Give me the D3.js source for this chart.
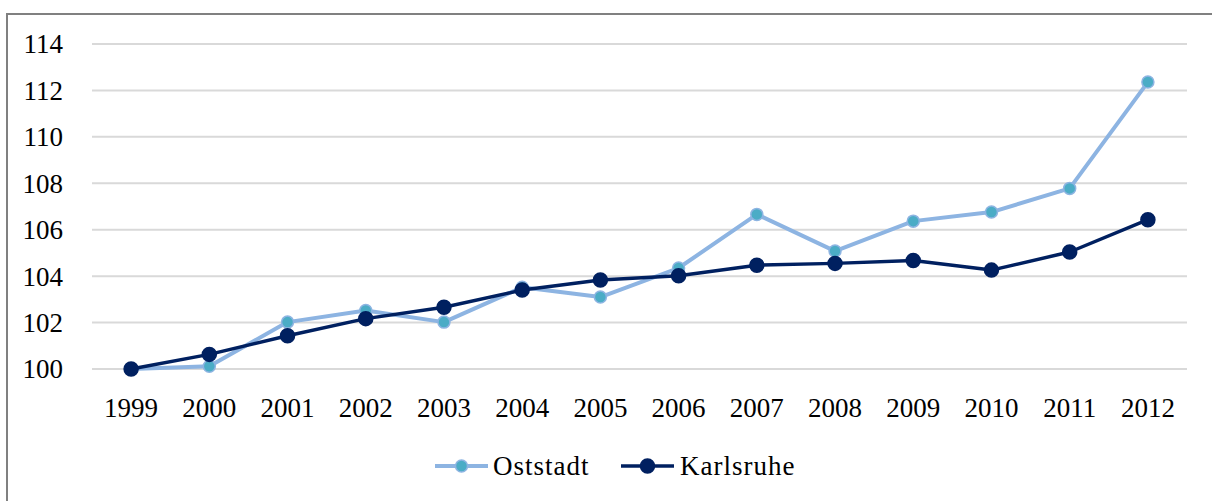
<!DOCTYPE html>
<html>
<head>
<meta charset="utf-8">
<script src="https://cdn.jsdelivr.net/npm/d3@7"></script>
<style>
  html, body { margin: 0; padding: 0; background: #fff; }
  svg { display: block; font-family: "Liberation Serif", "DejaVu Serif", serif; }
</style>
</head>
<body>
<svg id="chart" width="1212" height="501"></svg>
<script>
var years = ['1999', '2000', '2001', '2002', '2003', '2004', '2005', '2006', '2007', '2008', '2009', '2010', '2011', '2012'];
var oststadt = [100, 100.12, 102.02, 102.52, 102.02, 103.52, 103.1, 104.35, 106.66, 105.08, 106.37, 106.76, 107.78, 112.36];
var karlsruhe = [100, 100.63, 101.43, 102.17, 102.66, 103.4, 103.83, 104.02, 104.47, 104.55, 104.67, 104.26, 105.04, 106.43];
var yTicks = [100, 102, 104, 106, 108, 110, 112, 114];

var series = [
  { name: 'Oststadt', values: oststadt, line: '#8db4e2', fill: '#4bacc6', width: 4, r: 6 },
  { name: 'Karlsruhe', values: karlsruhe, line: '#002060', fill: '#002060', width: 3.5, r: 7 }
];

var svg = d3.select('#chart');

// outer frame, only top and left edges are visible
svg.append('path')
  .attr('d', 'M7,501 V14 H1212')
  .attr('fill', 'none')
  .attr('stroke', '#808080')
  .attr('stroke-width', 2);

var x = d3.scaleBand().domain(years).range([92, 1187]).padding(0);
var y = d3.scaleLinear().domain([100, 114]).range([369, 44]);

// gridlines
svg.append('g')
  .selectAll('line')
  .data(yTicks)
  .enter().append('line')
  .attr('x1', 92)
  .attr('x2', 1187)
  .attr('y1', function(d) { return y(d); })
  .attr('y2', function(d) { return y(d); })
  .attr('stroke', '#d9d9d9')
  .attr('stroke-width', 2);

// y labels
svg.append('g')
  .selectAll('text')
  .data(yTicks)
  .enter().append('text')
  .attr('x', 63)
  .attr('y', function(d) { return y(d); })
  .attr('dy', '0.35em')
  .attr('text-anchor', 'end')
  .attr('font-size', 27)
  .attr('fill', '#000')
  .text(function(d) { return d; });

// x labels
svg.append('g')
  .selectAll('text')
  .data(years)
  .enter().append('text')
  .attr('x', function(d) { return x(d) + x.bandwidth() / 2; })
  .attr('y', 408)
  .attr('dy', '0.35em')
  .attr('text-anchor', 'middle')
  .attr('font-size', 27)
  .attr('fill', '#000')
  .text(function(d) { return d; });

var line = d3.line()
  .x(function(d, i) { return x(years[i]) + x.bandwidth() / 2; })
  .y(function(d) { return y(d); });

series.forEach(function(s) {
  var g = svg.append('g');
  g.append('path')
    .datum(s.values)
    .attr('d', line)
    .attr('fill', 'none')
    .attr('stroke', s.line)
    .attr('stroke-width', s.width)
    .attr('stroke-linejoin', 'round');
  g.selectAll('circle')
    .data(s.values)
    .enter().append('circle')
    .attr('cx', function(d, i) { return x(years[i]) + x.bandwidth() / 2; })
    .attr('cy', function(d) { return y(d); })
    .attr('r', s.r)
    .attr('fill', s.fill)
    .attr('stroke', s.line)
    .attr('stroke-width', 1.5);
});

// legend
var legendPos = [{ x: 435, tx: 493 }, { x: 621, tx: 680 }];
var legend = svg.append('g');
series.forEach(function(s, i) {
  var p = legendPos[i];
  legend.append('line')
    .attr('x1', p.x).attr('x2', p.x + 53)
    .attr('y1', 466).attr('y2', 466)
    .attr('stroke', s.line)
    .attr('stroke-width', s.width);
  legend.append('circle')
    .attr('cx', p.x + 26.5).attr('cy', 466)
    .attr('r', s.r)
    .attr('fill', s.fill)
    .attr('stroke', s.line)
    .attr('stroke-width', 1.5);
  legend.append('text')
    .attr('x', p.tx).attr('y', 466)
    .attr('dy', '0.35em')
    .attr('font-size', 27)
    .attr('letter-spacing', 1)
    .attr('fill', '#000')
    .text(s.name);
});
</script>
</body>
</html>
